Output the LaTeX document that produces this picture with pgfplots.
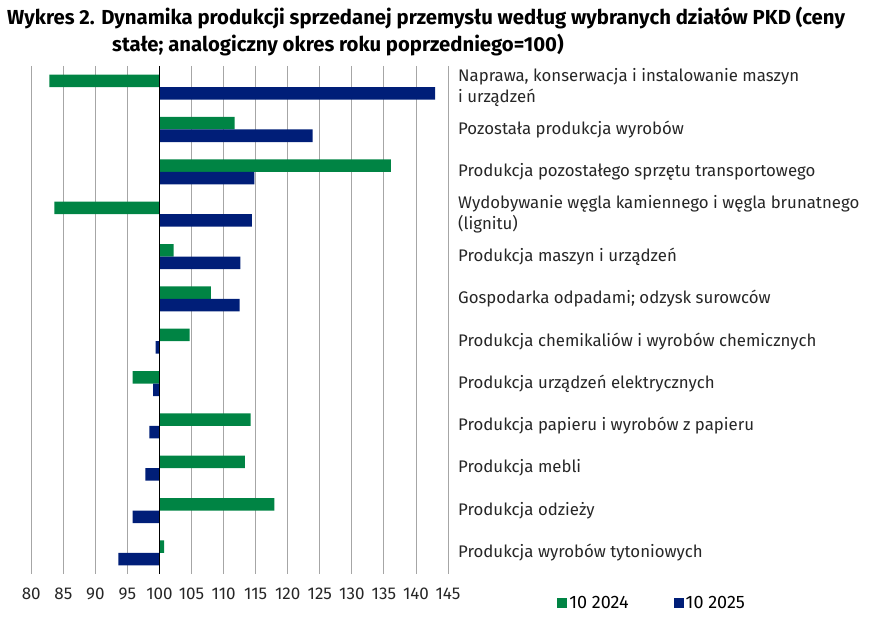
\documentclass[border=0pt]{standalone}
\usepackage{pgfplots}
\pgfplotsset{compat=1.18}
\usepackage{fontspec}
\setmainfont{Fira Sans}[BoldFont={* Bold}]
\definecolor{g24}{HTML}{008444}
\definecolor{b25}{HTML}{001E78}
\begin{document}
\begin{tikzpicture}[x=1pt,y=1pt]
\path[use as bounding box] (0,0) rectangle (874,631);
\node[anchor=base west, font=\bfseries\fontsize{20.3}{23}\selectfont, inner sep=0pt] at (7,606) {Wykres 2. Dynamika produkcji sprzedanej przemysłu według wybranych działów PKD (ceny};
\node[anchor=base west, font=\bfseries\fontsize{20.3}{23}\selectfont, inner sep=0pt] at (112,579) {stałe; analogiczny okres roku poprzedniego=100)};
\begin{axis}[
  at={(31.3pt,57pt)}, anchor=south west,
  scale only axis, width=416.7pt, height=508pt,
  xbar, bar width=12.5pt,
  x coord trafo/.code={\pgfmathparse{#1-100}},
  x coord inv trafo/.code={\pgfmathparse{#1+100}},
  xmin=80, xmax=145, ymin=-0.5, ymax=11.5, y dir=reverse,
  xtick={80,85,90,95,100,105,110,115,120,125,130,135,140,145},
  xticklabels={80,85,90,95,100,105,110,115,120,125,130,135,140,145},
  xmajorgrids, major grid style={draw=black!35, line width=0.8pt},
  axis line style={draw=none}, major tick length=0pt,
  ytick={0,1,2,3,4,5,6,7,8,9,10,11},
  yticklabels={{Naprawa, konserwacja i instalowanie maszyn\\i urządzeń},
    {Pozostała produkcja wyrobów},
    {Produkcja pozostałego sprzętu transportowego},
    {Wydobywanie węgla kamiennego i węgla brunatnego\\(lignitu)},
    {Produkcja maszyn i urządzeń},
    {Gospodarka odpadami; odzysk surowców},
    {Produkcja chemikaliów i wyrobów chemicznych},
    {Produkcja urządzeń elektrycznych},
    {Produkcja papieru i wyrobów z papieru},
    {Produkcja mebli},
    {Produkcja odzieży},
    {Produkcja wyrobów tytoniowych}},
  yticklabel pos=right,
  yticklabel style={anchor=west, align=left, inner sep=0pt, xshift=10pt,
    font=\fontsize{16.8}{21}\selectfont, text=black!85},
  xticklabel style={font=\fontsize{17}{19}\selectfont, text=black!85, inner sep=0pt, yshift=-14pt},
  legend columns=2,
  legend style={at={(1.262,-0.057)}, anchor=west, draw=none, fill=none,
    font=\fontsize{18}{20}\selectfont, inner sep=0pt,
    /tikz/every even column/.append style={column sep=43pt}},
  legend image code/.code={\fill[#1] (-4pt,-5pt) rectangle (6pt,5pt);},
]
\addplot[fill=g24, draw=none, bar shift=6.25pt] coordinates {
(82.8,0) (111.7,1) (136.1,2) (83.6,3) (102.2,4) (108.0,5)
(104.7,6) (95.8,7) (114.2,8) (113.3,9) (117.9,10) (100.7,11)};
\addplot[fill=b25, draw=none, bar shift=-6.25pt] coordinates {
(143.0,0) (123.9,1) (114.8,2) (114.4,3) (112.6,4) (112.5,5)
(99.4,6) (99.0,7) (98.4,8) (97.8,9) (95.8,10) (93.6,11)};
\legend{10 2024, 10 2025}
\draw[black, line width=1.3pt] (axis cs:100,-0.5) -- (axis cs:100,11.5);
\end{axis}
\end{tikzpicture}
\end{document}
